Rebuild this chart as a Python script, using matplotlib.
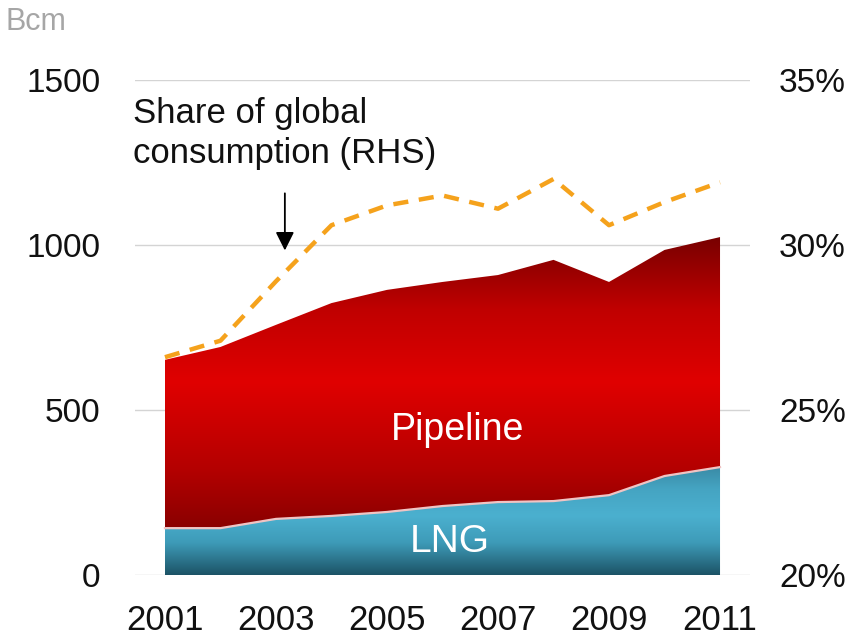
import numpy as np
import matplotlib
matplotlib.use("Agg")
import matplotlib.pyplot as plt
from matplotlib.colors import LinearSegmentedColormap
from matplotlib.patches import Polygon

plt.rcParams['font.family'] = ['Liberation Sans', 'DejaVu Sans']

# ---- data ----
years = [2001, 2002, 2003, 2004, 2005, 2006, 2007, 2008, 2009, 2010, 2011]
lng = [142, 142, 170, 179, 191, 209, 221, 224, 242, 300, 327]
pipeline_total = [652, 691, 758, 824, 864, 888, 909, 955, 888, 985, 1024]
share = [26.6, 27.1, 28.9, 30.6, 31.2, 31.5, 31.1, 32.0, 30.6, 31.3, 31.9]
left_ticks = [0, 500, 1000, 1500]
right_ticks = [20, 25, 30, 35]
x_ticks = [2001, 2003, 2005, 2007, 2009, 2011]

yrs = np.array(years, dtype=float)
lng_a = np.array(lng, dtype=float)
tot_a = np.array(pipeline_total, dtype=float)

fig = plt.figure(figsize=(8.61, 6.42), dpi=100)
ax = fig.add_axes([135/861, 1 - 575/642, 615/861, 495/642])

ax.set_xlim(2000.46, 2011.54)
ax.set_ylim(0, 1500)

# gridlines
for v in left_ticks:
    ax.axhline(v, color='#d4d4d4', lw=1.0, zorder=0.5)


def grad_area(lower, upper, colors, zorder):
    verts = np.vstack([np.column_stack([yrs, upper]),
                       np.column_stack([yrs[::-1], lower[::-1]])])
    patch = Polygon(verts, closed=True, facecolor='none', edgecolor='none',
                    transform=ax.transData)
    ax.add_patch(patch)
    cmap = LinearSegmentedColormap.from_list('g', colors)
    g = np.linspace(0, 1, 256).reshape(-1, 1)
    im = ax.imshow(g, extent=[yrs.min(), yrs.max(), lower.min(), upper.max()],
                   origin='lower', aspect='auto', cmap=cmap, zorder=zorder,
                   interpolation='bilinear')
    im.set_clip_path(patch)
    return patch


# LNG gradient: dark bottom, light middle, teal top
grad_area(np.zeros_like(lng_a), lng_a,
          [(0.0, '#1c5366'), (0.3, '#3e9bb8'), (0.55, '#4bb0cf'),
           (0.8, '#45a4c2'), (1.0, '#3a8ba6')], 2)
# Pipeline gradient: dark bottom, bright middle, dark top
grad_area(lng_a, tot_a,
          [(0.0, '#8a0000'), (0.2, '#b40000'), (0.5, '#e00000'),
           (0.75, '#c00000'), (1.0, '#780000')], 2)

ax.plot(yrs, lng_a, color='#f0c4c4', lw=1.6, zorder=3)

ax.set_xticks(x_ticks)
ax.set_xticklabels([str(x) for x in x_ticks])
ax.set_yticks(left_ticks)
ax.set_yticklabels([str(v) for v in left_ticks])
ax.tick_params(axis='both', length=0, labelsize=24, colors='#111111')
ax.tick_params(axis='x', labelsize=25, pad=21)
ax.tick_params(axis='y', pad=25)
for s in ax.spines.values():
    s.set_visible(False)

ax2 = ax.twinx()
ax2.set_ylim(20, 35)
ax2.set_yticks(right_ticks)
ax2.set_yticklabels([f"{v}%" for v in right_ticks])
ax2.tick_params(axis='y', length=0, labelsize=24, colors='#111111', pad=21)
for s in ax2.spines.values():
    s.set_visible(False)
line, = ax2.plot(yrs, share, color='#f5a21c', lw=3.2, zorder=5)
line.set_dashes([3.4, 2.4])
line.set_dash_capstyle('butt')

# annotations
ax.text(2000.42, 1450, "Share of global\nconsumption (RHS)", ha='left', va='top',
        fontsize=25, color='#111111', linespacing=1.3, zorder=6)
ax.annotate('', xy=(2003.16, 975), xytext=(2003.16, 1165),
            arrowprops=dict(arrowstyle='-|>', color='black', lw=1.3,
                            mutation_scale=28), zorder=6)
ax.text(2006.28, 439, "Pipeline", ha='center', va='center', fontsize=27,
        color='white', zorder=6)
ax.text(2006.13, 100, "LNG", ha='center', va='center', fontsize=28,
        color='white', zorder=6)

fig.text(5/861, 1 - 22/642, "Bcm", ha='left', va='center', fontsize=22,
         color='#a6a6a6')

fig.savefig("out.png", dpi=100, facecolor='white')
